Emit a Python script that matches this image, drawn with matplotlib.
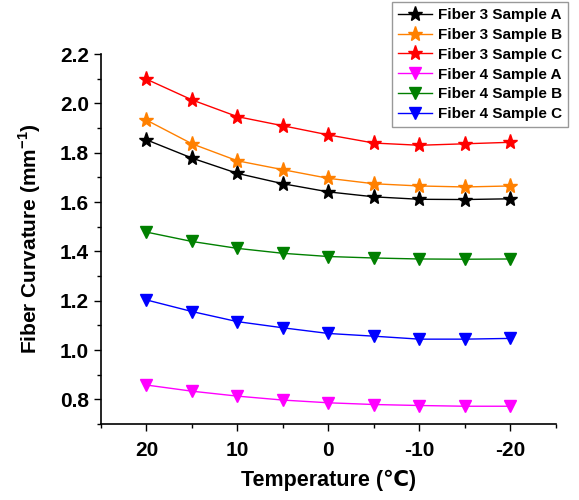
import matplotlib.pyplot as plt
from matplotlib.ticker import MultipleLocator

# Temperatura (°C) y curvatura (mm^-1)
temperature = [20, 15, 10, 5, 0, -5, -10, -15, -20]

f3_a = [1.852, 1.778, 1.716, 1.674, 1.641, 1.621, 1.611, 1.610, 1.613]
f3_b = [1.932, 1.836, 1.767, 1.731, 1.696, 1.674, 1.665, 1.661, 1.665]
f3_c = [2.098, 2.014, 1.946, 1.909, 1.872, 1.839, 1.830, 1.836, 1.842]
f4_a = [0.858, 0.833, 0.813, 0.797, 0.786, 0.779, 0.775, 0.772, 0.772]
f4_b = [1.478, 1.440, 1.412, 1.392, 1.379, 1.373, 1.369, 1.368, 1.369]
f4_c = [1.203, 1.156, 1.115, 1.090, 1.067, 1.056, 1.044, 1.044, 1.047]

labels = ['Fiber 3 Sample A', 'Fiber 3 Sample B', 'Fiber 3 Sample C',
          'Fiber 4 Sample A', 'Fiber 4 Sample B', 'Fiber 4 Sample C']

plt.rcParams['font.family'] = ['Liberation Sans', 'DejaVu Sans']
plt.rcParams['font.weight'] = 'bold'
plt.rcParams['axes.unicode_minus'] = False
plt.rcParams['mathtext.fontset'] = 'custom'
plt.rcParams['mathtext.rm'] = 'Liberation Sans'
plt.rcParams['mathtext.bf'] = 'Liberation Sans:bold'

fig = plt.figure(figsize=(5.79, 5.00), dpi=100)
ax = fig.add_axes([0.1744, 0.152, 0.7856, 0.740])

ax.plot(temperature, f3_a, color='black', marker='*', markersize=11, lw=1, label=labels[0])
ax.plot(temperature, f3_b, color='#ff8000', marker='*', markersize=11, lw=1, label=labels[1])
ax.plot(temperature, f3_c, color='red', marker='*', markersize=11, lw=1, label=labels[2])
ax.plot(temperature, f4_a, color='magenta', marker='v', markersize=9, lw=1, label=labels[3])
ax.plot(temperature, f4_b, color='green', marker='v', markersize=9, lw=1, label=labels[4])
ax.plot(temperature, f4_c, color='blue', marker='v', markersize=9, lw=1, label=labels[5])

ax.set_xlim(25, -25)
ax.set_ylim(0.7, 2.2)
ax.xaxis.set_major_locator(MultipleLocator(10))
ax.xaxis.set_minor_locator(MultipleLocator(5))
ax.yaxis.set_major_locator(MultipleLocator(0.2))
ax.yaxis.set_minor_locator(MultipleLocator(0.1))
ax.yaxis.set_major_formatter(plt.FormatStrFormatter('%.1f'))

ax.spines['top'].set_visible(False)
ax.spines['right'].set_visible(False)
ax.spines['left'].set_linewidth(1.2)
ax.spines['bottom'].set_linewidth(1.2)
ax.tick_params(which='major', direction='out', length=5, width=1, labelsize=15)
ax.tick_params(axis='x', which='major', pad=7)
ax.tick_params(which='minor', direction='out', length=3, width=1)
for lab in ax.get_xticklabels() + ax.get_yticklabels():
    lab.set_fontweight('bold')

ax.set_xlabel('Temperature (℃)', fontsize=15.5, fontweight='bold', labelpad=7)
ax.set_ylabel('Fiber Curvature (mm$^{\\mathbf{-1}}$)', fontsize=15, fontweight='bold', labelpad=12)

leg = ax.legend(loc='upper right', bbox_to_anchor=(568 / 579, 1 - 2 / 500),
                bbox_transform=fig.transFigure,
                frameon=True, fancybox=False, edgecolor='gray',
                handlelength=2.2, handletextpad=0.4, labelspacing=0.38,
                borderpad=0.4, borderaxespad=0, prop={'weight': 'bold', 'size': 11})
leg.get_frame().set_linewidth(1.0)

fig.savefig('out.png', dpi=100)
